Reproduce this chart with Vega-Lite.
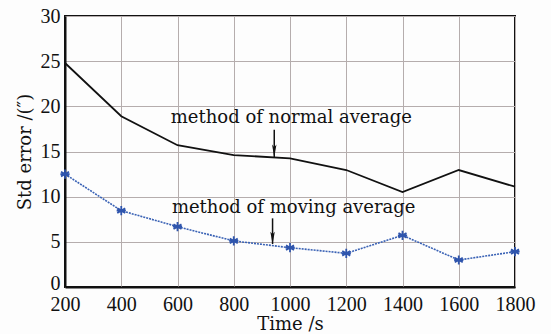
{
  "$schema": "https://vega.github.io/schema/vega-lite/v6.json",
  "width": 450,
  "height": 271,
  "autosize": {"type": "none"},
  "padding": {"left": 65, "top": 16, "right": 36, "bottom": 47},
  "background": "#fdfdfd",
  "config": {
    "view": {"stroke": "#111111", "strokeWidth": 2},
    "axis": {
      "labelFont": "Liberation Serif",
      "labelFontSize": 20,
      "labelColor": "#111111",
      "labelOverlap": false,
      "labelBound": false,
      "labelFlush": false,
      "titleFont": "DejaVu Serif",
      "titleFontSize": 18,
      "titleFontWeight": "normal",
      "titleColor": "#111111",
      "gridColor": "#b5adad",
      "gridWidth": 1,
      "gridOpacity": 1,
      "ticks": false,
      "domainColor": "#111111",
      "domainWidth": 2
    }
  },
  "datasets": {
    "series": [
      {"time": 200, "value": 24.8, "method": "normal"},
      {"time": 400, "value": 18.9, "method": "normal"},
      {"time": 600, "value": 15.7, "method": "normal"},
      {"time": 800, "value": 14.6, "method": "normal"},
      {"time": 1000, "value": 14.25, "method": "normal"},
      {"time": 1200, "value": 12.95, "method": "normal"},
      {"time": 1400, "value": 10.5, "method": "normal"},
      {"time": 1600, "value": 12.95, "method": "normal"},
      {"time": 1800, "value": 11.1, "method": "normal"},
      {"time": 200, "value": 12.5, "method": "moving"},
      {"time": 400, "value": 8.45, "method": "moving"},
      {"time": 600, "value": 6.68, "method": "moving"},
      {"time": 800, "value": 5.1, "method": "moving"},
      {"time": 1000, "value": 4.35, "method": "moving"},
      {"time": 1200, "value": 3.73, "method": "moving"},
      {"time": 1400, "value": 5.72, "method": "moving"},
      {"time": 1600, "value": 2.99, "method": "moving"},
      {"time": 1800, "value": 3.91, "method": "moving"}
    ],
    "notes": [
      {"time": 576, "value": 18.7, "label": "method of normal average"},
      {"time": 580, "value": 8.7, "label": "method of moving average"}
    ],
    "arrows": [
      {"time": 944, "top": 17.4, "tip": 14.4},
      {"time": 938, "top": 7.6, "tip": 4.76}
    ]
  },
  "layer": [
    {
      "data": {"name": "series"},
      "transform": [{"filter": "datum.method === 'normal'"}],
      "mark": {"type": "line", "color": "#111111", "strokeWidth": 1.8},
      "encoding": {
        "x": {
          "field": "time", "type": "quantitative",
          "scale": {"domain": [200, 1800], "nice": false},
          "axis": {"values": [200, 400, 600, 800, 1000, 1200, 1400, 1600, 1800], "title": "Time /s", "labelPadding": 7, "titlePadding": 1, "grid": true, "format": "d"}
        },
        "y": {
          "field": "value", "type": "quantitative",
          "scale": {"domain": [0, 30], "nice": false},
          "axis": {"values": [0, 5, 10, 15, 20, 25, 30], "title": "Std error /(″)", "labelPadding": 5, "titlePadding": 6, "grid": true,
            "labelOffset": {"condition": {"test": "datum.value === 0", "value": -4}, "value": 0}}
        }
      }
    },
    {
      "data": {"name": "series"},
      "transform": [{"filter": "datum.method === 'moving'"}],
      "mark": {"type": "line", "color": "#3a62b5", "strokeWidth": 1.6, "strokeDash": [2, 1]},
      "encoding": {
        "x": {"field": "time", "type": "quantitative"},
        "y": {"field": "value", "type": "quantitative"}
      }
    },
    {
      "data": {"name": "series"},
      "transform": [{"filter": "datum.method === 'moving'"}],
      "mark": {"type": "point", "filled": false, "color": "#2f55ad", "strokeWidth": 1.8, "size": 85, "opacity": 1,
        "shape": "M0,-1L0,1M-0.87,-0.5L0.87,0.5M-0.87,0.5L0.87,-0.5M-1,0L1,0"},
      "encoding": {
        "x": {"field": "time", "type": "quantitative"},
        "y": {"field": "value", "type": "quantitative"}
      }
    },
    {
      "data": {"name": "notes"},
      "mark": {"type": "text", "align": "left", "baseline": "middle", "font": "DejaVu Serif", "fontSize": 18, "color": "#111111"},
      "encoding": {
        "x": {"field": "time", "type": "quantitative"},
        "y": {"field": "value", "type": "quantitative"},
        "text": {"field": "label"}
      }
    },
    {
      "data": {"name": "arrows"},
      "mark": {"type": "rule", "color": "#111111", "strokeWidth": 1.5},
      "encoding": {
        "x": {"field": "time", "type": "quantitative"},
        "y": {"field": "top", "type": "quantitative"},
        "y2": {"field": "tip"}
      }
    },
    {
      "data": {"name": "arrows"},
      "mark": {"type": "point", "filled": true, "color": "#111111", "opacity": 1, "size": 160, "yOffset": -6,
        "shape": "M-0.35,-1L0,1L0.35,-1L0,-0.6Z"},
      "encoding": {
        "x": {"field": "time", "type": "quantitative"},
        "y": {"field": "tip", "type": "quantitative"}
      }
    }
  ]
}
